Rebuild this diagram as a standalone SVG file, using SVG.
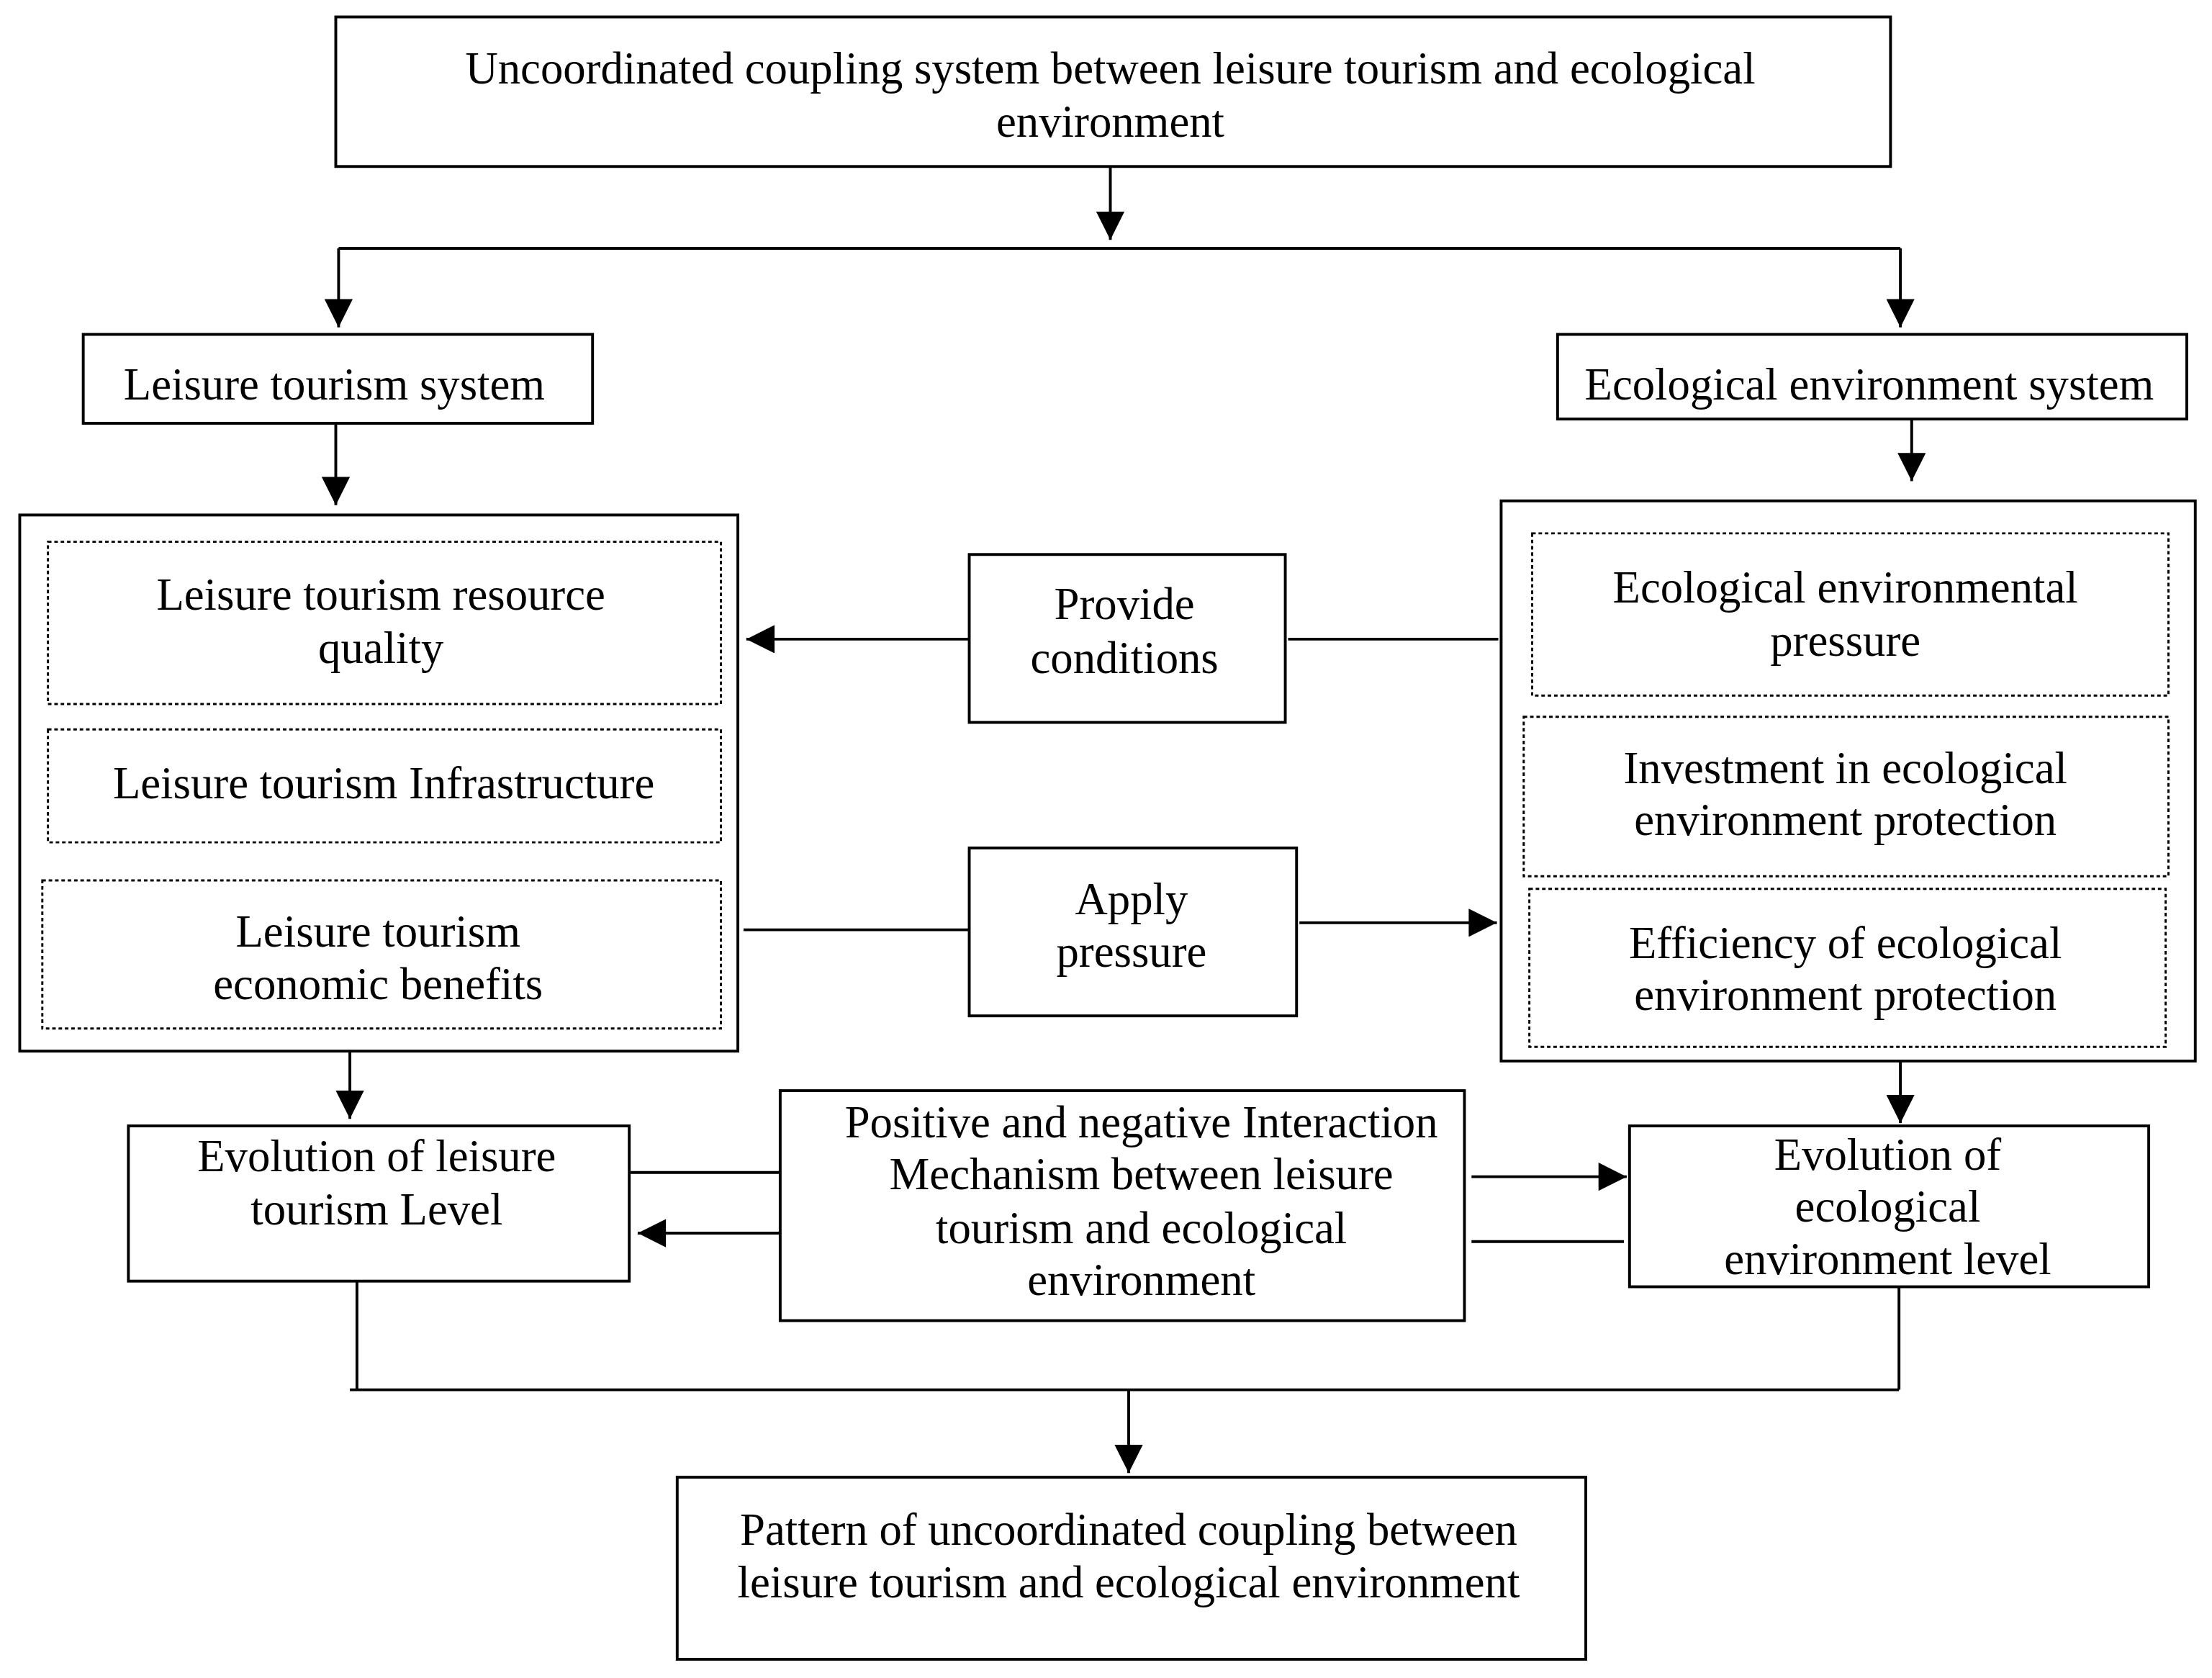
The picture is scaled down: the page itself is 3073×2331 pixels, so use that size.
<svg xmlns="http://www.w3.org/2000/svg" width="3073" height="2331" viewBox="0 0 3073 2331">
<style>
.b{fill:#fff;stroke:#000;stroke-width:2}
.d{fill:none;stroke:#000;stroke-width:1.5;stroke-dasharray:2.5 2}
.l{fill:none;stroke:#000;stroke-width:2}
text{font-family:"Liberation Serif","Times New Roman",serif;font-size:32px;text-anchor:middle;fill:#000}
</style>
<defs><marker id="a" viewBox="0 0 10 10" refX="10" refY="5" markerWidth="22" markerHeight="20" markerUnits="userSpaceOnUse" orient="auto"><path d="M0,0L10,5L0,10z"/></marker></defs>
<rect width="3073" height="2331" fill="#fff"/>
<g transform="scale(1.96)">
<g id="connectors" marker-end="url(#a)">
<path class="l" d="M787,118V170"/>
<path class="l" d="M240,176H1347" marker-end="none"/>
<path class="l" d="M240,176V232"/>
<path class="l" d="M1347,176V232"/>
<path class="l" d="M238,300V358"/>
<path class="l" d="M1355,297V341"/>
<path class="l" d="M1062,453H913" marker-end="none"/>
<path class="l" d="M687,453H529"/>
<path class="l" d="M527,659H687" marker-end="none"/>
<path class="l" d="M921,654H1061"/>
<path class="l" d="M248,745V793"/>
<path class="l" d="M1347,752V796"/>
<path class="l" d="M447,831H555" marker-end="none"/>
<path class="l" d="M553,874H452"/>
<path class="l" d="M1043,834H1153"/>
<path class="l" d="M1043,880H1151" marker-end="none"/>
<path class="l" d="M253,908V985M1346,912V985M248,985H1346" marker-end="none"/>
<path class="l" d="M800,985V1044"/>
</g>
<g id="top"><rect class="b" x="238" y="12" width="1102" height="106"/><text x="787" y="59">Uncoordinated coupling system between leisure tourism and ecological</text><text x="787" y="97">environment</text></g>
<g id="lts"><rect class="b" x="59" y="237" width="361" height="63"/><text x="237" y="283">Leisure tourism system</text></g>
<g id="ees"><rect class="b" x="1104" y="237" width="446" height="60"/><text x="1325" y="283">Ecological environment system</text></g>
<g id="left"><rect class="b" x="14" y="365" width="509" height="380"/>
<rect class="d" x="34" y="384" width="477" height="115"/><text x="270" y="432">Leisure tourism resource</text><text x="270" y="470">quality</text>
<rect class="d" x="34" y="517" width="477" height="80"/><text x="272" y="566">Leisure tourism Infrastructure</text>
<rect class="d" x="30" y="624" width="481" height="105"/><text x="268" y="671">Leisure tourism</text><text x="268" y="708">economic benefits</text></g>
<g id="right"><rect class="b" x="1064" y="355" width="492" height="397"/>
<rect class="d" x="1086" y="378" width="451" height="115"/><text x="1308" y="427">Ecological environmental</text><text x="1308" y="465">pressure</text>
<rect class="d" x="1080" y="508" width="457" height="113"/><text x="1308" y="555">Investment in ecological</text><text x="1308" y="592">environment protection</text>
<rect class="d" x="1084" y="630" width="451" height="112"/><text x="1308" y="679">Efficiency of ecological</text><text x="1308" y="716">environment protection</text></g>
<g id="provide"><rect class="b" x="687" y="393" width="224" height="119"/><text x="797" y="439">Provide</text><text x="797" y="477">conditions</text></g>
<g id="apply"><rect class="b" x="687" y="601" width="232" height="119"/><text x="802" y="648">Apply</text><text x="802" y="685">pressure</text></g>
<g id="evl"><rect class="b" x="91" y="798" width="355" height="110"/><text x="267" y="830">Evolution of leisure</text><text x="267" y="868">tourism Level</text></g>
<g id="mid"><rect class="b" x="553" y="773" width="485" height="163"/><text x="809" y="806">Positive and negative Interaction</text><text x="809" y="843">Mechanism between leisure</text><text x="809" y="881">tourism and ecological</text><text x="809" y="918">environment</text></g>
<g id="eve"><rect class="b" x="1155" y="798" width="368" height="114"/><text x="1338" y="829">Evolution of</text><text x="1338" y="866">ecological</text><text x="1338" y="903">environment level</text></g>
<g id="bottom"><rect class="b" x="480" y="1047" width="644" height="129"/><text x="800" y="1095">Pattern of uncoordinated coupling between</text><text x="800" y="1132">leisure tourism and ecological environment</text></g>
</g>
</svg>
